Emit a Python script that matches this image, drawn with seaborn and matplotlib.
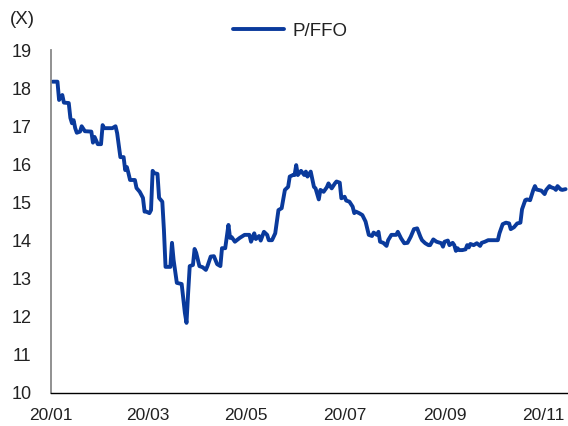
import matplotlib
matplotlib.use("Agg")
import matplotlib.pyplot as plt
import matplotlib.dates as mdates
import seaborn as sns
import pandas as pd

tanggal = [
    "2020-01-02", "2020-01-05", "2020-01-06", "2020-01-08", "2020-01-09", "2020-01-12",
    "2020-01-13", "2020-01-14", "2020-01-15", "2020-01-16", "2020-01-17", "2020-01-19",
    "2020-01-20", "2020-01-22", "2020-01-26", "2020-01-27", "2020-01-28", "2020-01-30",
    "2020-02-01", "2020-02-02", "2020-02-03", "2020-02-08", "2020-02-10", "2020-02-11",
    "2020-02-13", "2020-02-15", "2020-02-16", "2020-02-17", "2020-02-18", "2020-02-19",
    "2020-02-22", "2020-02-23", "2020-02-25", "2020-02-27", "2020-02-28", "2020-02-29",
    "2020-03-02", "2020-03-03", "2020-03-04", "2020-03-05", "2020-03-07", "2020-03-08",
    "2020-03-10", "2020-03-11", "2020-03-12", "2020-03-15", "2020-03-16", "2020-03-17",
    "2020-03-19", "2020-03-22", "2020-03-24", "2020-03-25", "2020-03-26", "2020-03-27",
    "2020-03-29", "2020-03-30", "2020-03-31", "2020-04-02", "2020-04-04", "2020-04-06",
    "2020-04-07", "2020-04-09", "2020-04-11", "2020-04-13", "2020-04-15", "2020-04-16",
    "2020-04-18", "2020-04-20", "2020-04-21", "2020-04-22", "2020-04-24", "2020-04-27",
    "2020-04-30", "2020-05-03", "2020-05-04", "2020-05-06", "2020-05-07", "2020-05-09",
    "2020-05-10", "2020-05-12", "2020-05-14", "2020-05-15", "2020-05-17", "2020-05-19",
    "2020-05-21", "2020-05-23", "2020-05-25", "2020-05-27", "2020-05-28", "2020-05-30",
    "2020-05-31", "2020-06-01", "2020-06-02", "2020-06-04", "2020-06-06", "2020-06-07",
    "2020-06-08", "2020-06-10", "2020-06-12", "2020-06-13", "2020-06-15", "2020-06-16",
    "2020-06-18", "2020-06-20", "2020-06-21", "2020-06-23", "2020-06-25", "2020-06-26",
    "2020-06-28", "2020-06-29", "2020-07-01", "2020-07-02", "2020-07-04", "2020-07-06",
    "2020-07-07", "2020-07-08", "2020-07-10", "2020-07-12", "2020-07-14", "2020-07-16",
    "2020-07-18", "2020-07-19", "2020-07-21", "2020-07-22", "2020-07-23", "2020-07-25",
    "2020-07-27", "2020-07-28", "2020-07-30", "2020-08-02", "2020-08-03", "2020-08-05",
    "2020-08-07", "2020-08-09", "2020-08-11", "2020-08-13", "2020-08-15", "2020-08-17",
    "2020-08-18", "2020-08-20", "2020-08-22", "2020-08-23", "2020-08-25", "2020-08-27",
    "2020-08-30", "2020-08-31", "2020-09-01", "2020-09-03", "2020-09-04", "2020-09-06",
    "2020-09-07", "2020-09-08", "2020-09-09", "2020-09-10", "2020-09-12", "2020-09-14",
    "2020-09-15", "2020-09-16", "2020-09-17", "2020-09-19", "2020-09-21", "2020-09-23",
    "2020-09-24", "2020-09-26", "2020-09-28", "2020-10-04", "2020-10-05", "2020-10-07",
    "2020-10-09", "2020-10-11", "2020-10-12", "2020-10-14", "2020-10-16", "2020-10-18",
    "2020-10-19", "2020-10-21", "2020-10-22", "2020-10-24", "2020-10-26", "2020-10-27",
    "2020-10-28", "2020-10-31", "2020-11-02", "2020-11-03", "2020-11-05", "2020-11-06",
    "2020-11-08", "2020-11-09", "2020-11-10", "2020-11-12", "2020-11-13", "2020-11-15",
]

p_ffo = [
    18.17, 18.17, 17.69, 17.82, 17.62, 17.61,
    17.22, 17.08, 17.16, 16.95, 16.83, 16.86,
    17.00, 16.87, 16.86, 16.57, 16.72, 16.53,
    16.53, 17.03, 16.95, 16.95, 17.00, 16.82,
    16.19, 16.19, 15.85, 15.93, 15.77, 15.59,
    15.59, 15.38, 15.28, 15.12, 14.76, 14.76,
    14.72, 14.80, 15.83, 15.77, 15.75, 15.12,
    15.02, 14.28, 13.31, 13.31, 13.94, 13.49,
    12.89, 12.86, 12.10, 11.84, 12.62, 13.33,
    13.36, 13.78, 13.68, 13.33, 13.30, 13.23,
    13.33, 13.58, 13.59, 13.38, 13.33, 13.80,
    13.80, 14.41, 14.07, 14.09, 13.97, 14.07,
    14.15, 14.15, 13.97, 14.19, 14.04, 14.12,
    14.00, 14.23, 14.15, 14.01, 14.01, 14.19,
    14.80, 14.85, 15.33, 15.41, 15.68, 15.72,
    15.72, 15.98, 15.72, 15.83, 15.72, 15.81,
    15.68, 15.81, 15.41, 15.37, 15.08, 15.33,
    15.28, 15.40, 15.50, 15.37, 15.50, 15.55,
    15.52, 15.11, 15.15, 15.05, 15.02, 14.89,
    14.72, 14.76, 14.72, 14.67, 14.50, 14.15,
    14.12, 14.21, 14.15, 14.23, 13.97, 13.94,
    13.86, 14.01, 14.15, 14.15, 14.23, 14.06,
    13.93, 13.94, 14.10, 14.30, 14.32, 14.10,
    14.01, 13.93, 13.88, 13.88, 14.03, 13.97,
    13.93, 13.84, 13.97, 14.00, 13.88, 13.94,
    13.88, 13.73, 13.80, 13.75, 13.75, 13.77,
    13.88, 13.82, 13.91, 13.88, 13.93, 13.86,
    13.94, 13.97, 14.01, 14.01, 14.19, 14.43,
    14.47, 14.45, 14.30, 14.35, 14.45, 14.47,
    14.82, 15.06, 15.08, 15.06, 15.33, 15.43,
    15.34, 15.31, 15.22, 15.33, 15.43, 15.40,
    15.37, 15.33, 15.43, 15.34, 15.33, 15.35,
]

df = pd.DataFrame({"tanggal": pd.to_datetime(tanggal), "P/FFO": p_ffo})

sns.set_style("white")
plt.rcParams["font.family"] = ["Liberation Sans", "DejaVu Sans"]

fig = plt.figure(figsize=(5.68, 4.26), dpi=100)
ax = fig.add_axes([0.0898, 0.0775, 0.9102, 0.805])

sns.lineplot(data=df, x="tanggal", y="P/FFO", ax=ax, color="#0a3a9c",
             linewidth=2.8, label="P/FFO", legend=False)

ax.set_xlim(pd.Timestamp("2020-01-01"), pd.Timestamp("2020-11-16 12:00"))
ax.set_ylim(10, 19)
ax.set_yticks(range(10, 20))
ax.xaxis.set_major_locator(mdates.MonthLocator(bymonth=[1, 3, 5, 7, 9, 11]))
ax.xaxis.set_major_formatter(mdates.DateFormatter("%y/%m"))
ax.set_xlabel("")
ax.set_ylabel("")

for s in ["top", "right"]:
    ax.spines[s].set_visible(False)
ax.spines["left"].set_color("#888888")
ax.spines["left"].set_linewidth(1.3)
ax.spines["bottom"].set_color("black")
ax.spines["bottom"].set_linewidth(1.0)

ax.tick_params(axis="y", direction="out", length=5, width=1, color="black",
               pad=9, labelsize=13, labelcolor="#222222")
ax.tick_params(axis="x", direction="out", length=4, width=1, color="black",
               pad=7, labelsize=12.5, labelcolor="#222222")

fig.text(10 / 568, 1 - 19 / 426, "(X)", fontsize=13.5, color="#222222",
         ha="left", va="center")

handles, labels = ax.get_legend_handles_labels()
fig.legend(handles, labels, loc="center", bbox_to_anchor=(290 / 568, 1 - 31 / 426),
           frameon=False, fontsize=13.5, handlelength=2.7, handletextpad=0.45,
           labelcolor="#222222")

fig.savefig("out.png", dpi=100)
